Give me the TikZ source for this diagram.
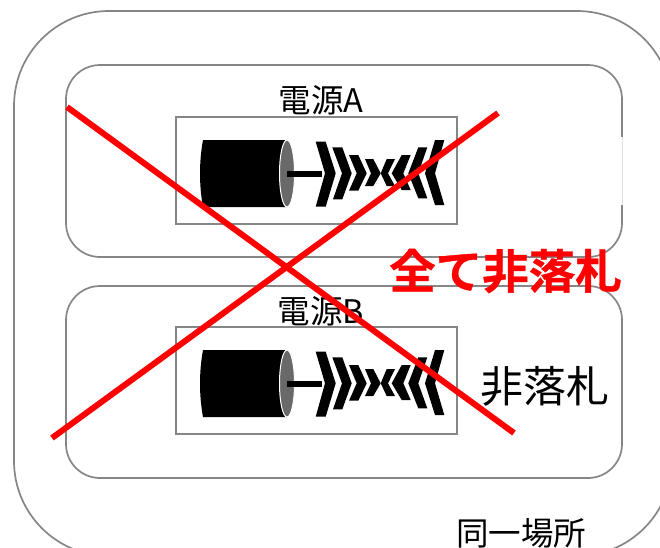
\documentclass[tikz,border=0pt]{standalone}
\usepackage{fontspec}
\newfontfamily\cjk{Noto Sans CJK JP}
\newfontfamily\cjkb[FakeBold=0.8]{Noto Sans CJK JP Bold}
\definecolor{edge}{RGB}{134,134,134}
\definecolor{capgray}{RGB}{105,105,105}
\tikzset{
  x=1pt,y=-1pt,
  frame/.style={draw=edge,line width=1.7pt,fill=none},
  groupbox/.style={frame,rounded corners=34pt,minimum width=556pt,minimum height=192pt,inner sep=0pt,outer sep=0pt,anchor=north west},
  devbox/.style={frame,minimum width=281pt,minimum height=107pt,inner sep=0pt,outer sep=0pt,anchor=north west},
  cross/.style={draw=red,line width=6pt},
  lab/.style={inner sep=0pt,text=black,anchor=center},
  chev/.style={fill=black,draw=none},
  pics/fuse/.style={code={
    \fill[black] (4,0) -- (88,0) -- (88,67) -- (4,67) .. controls (0,45) and (0,22) .. (4,0) -- cycle;
    \draw[white,line width=1pt,fill=capgray] (88,33.5) ellipse [x radius=7.5,y radius=33.5];
    \fill[black] (88,31) rectangle (123,37);
    \fill[chev] (116.7,1.7) -- (126.7,1.7) -- (136.7,33.3) -- (126.7,66.7) -- (116.7,66.7) -- (126,33.3) -- cycle;
    \fill[chev] (133.3,7.3) -- (143.3,7.3) -- (152.7,33.3) -- (143.3,59.3) -- (134,59.3) -- (143,33.3) -- cycle;
    \fill[chev] (150,15) -- (159.3,15) -- (167.7,33.3) -- (159.3,50.7) -- (150,50.7) -- (157.7,33.3) -- cycle;
    \fill[chev] (166,19) -- (174.3,19) -- (181.7,33.3) -- (174.3,46) -- (166,46) -- (172,33.3) -- cycle;
    \fill[chev] (196,19) -- (187.7,19) -- (181.7,33.3) -- (187.7,46) -- (196,46) -- (189,33.3) -- cycle;
    \fill[chev] (211.7,15) -- (202.7,15) -- (192.7,33.3) -- (202.7,50) -- (211.7,50) -- (204.3,33.3) -- cycle;
    \fill[chev] (228.3,7.3) -- (219.3,7.3) -- (209.3,33.3) -- (219.3,58.3) -- (228.3,58.3) -- (219.3,33.3) -- cycle;
    \fill[chev] (245.3,0) -- (236,0) -- (226,33.3) -- (236,65) -- (245.3,65) -- (236,33.3) -- cycle;
  }}
}
\begin{document}
\begin{tikzpicture}
\useasboundingbox (0,0) rectangle (660,547);
\clip (0,0) rectangle (660,547);
\fill[white] (0,0) rectangle (660,547);
% outer place boundary
\draw[frame,rounded corners=95pt] (14,11) rectangle (672,556);
% power-source frames
\node[groupbox] (groupA) at (66,65) {};
\node[groupbox] (groupB) at (66,286) {};
\draw[white,line width=2.4pt] (622,137) -- (622,205);
\draw[black!12,line width=.6pt] (622.6,137) -- (622.6,205);
% device boxes
\node[devbox] (boxA) at (176,117) {};
\node[devbox] (boxB) at (176,327) {};
\pic at (199,140) {fuse};
\pic at (199,350) {fuse};
% labels
\node[lab,font=\cjk\fontsize{32.5}{33}\selectfont] (labA) at (321,100) {電源A};
\node[lab,font=\cjk\fontsize{32.5}{33}\selectfont] (labB) at (321,311) {電源B};
\node[lab,font=\cjk\fontsize{43}{44}\selectfont] (nonwin) at (544.5,386) {非落札};
\node[lab,font=\cjk\fontsize{32.5}{33}\selectfont] (place) at (521,533.5) {同一場所};
% red cross
\coordinate (c1) at (67,107);
\coordinate (c2) at (514,433);
\coordinate (c3) at (52,438);
\coordinate (c4) at (498,113);
\draw[cross] (c1) -- (c2);
\draw[cross] (c3) -- (c4);
\node[lab,text=red,font=\cjkb\fontsize{46.5}{47}\selectfont] (allnon) at (505.5,271) {全て非落札};
\end{tikzpicture}
\end{document}
